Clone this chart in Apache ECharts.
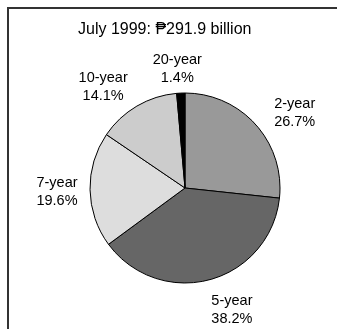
<!DOCTYPE html>
<html>
<head>
<meta charset="utf-8">
<script src="https://cdn.jsdelivr.net/npm/echarts@6/dist/echarts.min.js"></script>
<style>
  html, body { margin: 0; padding: 0; background: #ffffff; }
  #chart { width: 337px; height: 329px; }
</style>
</head>
<body>
<div id="chart"></div>
<script>
// Treasury bond holdings by tenor, July 1999
const titleText = 'July 1999: \u20B1291.9 billion';
const tenors = ['2-year', '5-year', '7-year', '10-year', '20-year'];
const shares = [26.7, 38.2, 19.6, 14.1, 1.4];
const sliceColors = ['#999999', '#666666', '#dddddd', '#cccccc', '#000000'];
// small text nudges for the outer labels
const labelNudge = [[13, 12], [13, -3], [2, 2], [-16, 11], [-2, 11]];

const pieCenter = [185, 188];
const pieRadius = 95;

const chart = echarts.init(document.getElementById('chart'), null, { renderer: 'canvas' });

const sliceData = tenors.map((name, i) => ({
  name: name,
  value: shares[i],
  itemStyle: { color: sliceColors[i] }
}));

// Transparent ring around the pie that carries the category labels
const labelData = tenors.map((name, i) => ({
  name: name,
  value: shares[i],
  label: { offset: labelNudge[i] }
}));

chart.setOption({
  animation: false,
  backgroundColor: '#ffffff',
  title: {
    text: titleText,
    left: 78,
    top: 22,
    padding: 0,
    textStyle: {
      fontFamily: 'Liberation Sans, Arial, sans-serif',
      fontSize: 16,
      fontWeight: 'normal',
      color: '#000000'
    }
  },
  graphic: [
    {
      type: 'polyline',
      shape: { points: [[8, 340], [8, 8], [340, 8]] },
      style: { stroke: '#333333', lineWidth: 2, fill: null },
      silent: true
    }
  ],
  series: [
    {
      type: 'pie',
      center: pieCenter,
      radius: pieRadius,
      startAngle: 90,
      clockwise: true,
      data: sliceData,
      label: { show: false },
      labelLine: { show: false },
      itemStyle: { borderColor: '#000000', borderWidth: 1 },
      emphasis: { disabled: true },
      silent: true
    },
    {
      type: 'pie',
      center: pieCenter,
      radius: [pieRadius, pieRadius + 64],
      startAngle: 90,
      clockwise: true,
      data: labelData,
      itemStyle: { color: 'rgba(0,0,0,0)', borderWidth: 0 },
      label: {
        show: true,
        position: 'inside',
        formatter: (p) => p.name + '\n' + p.value.toFixed(1) + '%',
        fontFamily: 'Liberation Sans, Arial, sans-serif',
        fontSize: 14.5,
        lineHeight: 18,
        color: '#000000',
        align: 'center'
      },
      labelLine: { show: false },
      emphasis: { disabled: true },
      silent: true
    }
  ]
});
</script>
</body>
</html>
